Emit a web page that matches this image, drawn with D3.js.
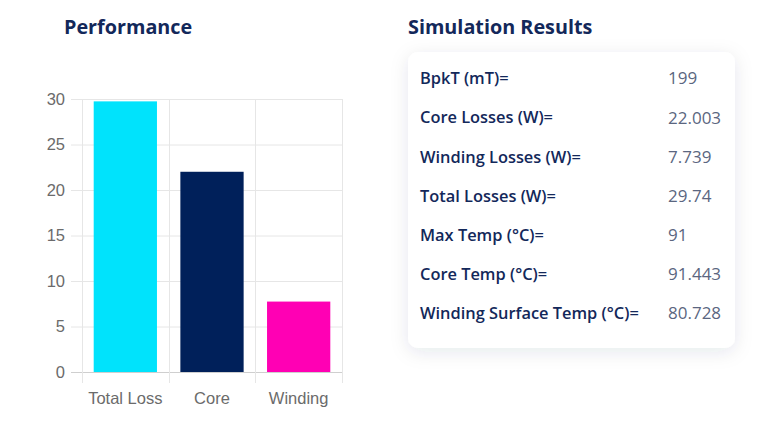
<!DOCTYPE html>
<html>
<head>
<meta charset="utf-8">
<script src="https://d3js.org/d3.v7.min.js"></script>
<style>
  body { margin: 0; background: #fff; }
</style>
</head>
<body>
<div id="chart"></div>
<script>
// data
var categories = ["Total Loss", "Core", "Winding"];
var values = [29.74, 22.003, 7.739];
var barColors = ["#00E3FC", "#00205A", "#FF00B4"];
var yTicks = [0, 5, 10, 15, 20, 25, 30];

var resultLabels = ["BpkT (mT)=", "Core Losses (W)=", "Winding Losses (W)=", "Total Losses (W)=",
                    "Max Temp (°C)=", "Core Temp (°C)=", "Winding Surface Temp (°C)="];
var resultValues = ["199", "22.003", "7.739", "29.74", "91", "91.443", "80.728"];

var width = 782, height = 433;
var navy = "#13285a";

var svg = d3.select("#chart").append("svg")
    .attr("width", width)
    .attr("height", height)
    .style("background", "#fff");

// shadow for the card
var defs = svg.append("defs");
var f = defs.append("filter").attr("id", "shadow")
    .attr("x", "-20%").attr("y", "-20%").attr("width", "140%").attr("height", "140%");
f.append("feDropShadow")
    .attr("dx", 0).attr("dy", 4)
    .attr("stdDeviation", 9)
    .attr("flood-color", "#1b2a55")
    .attr("flood-opacity", 0.10);

// titles
svg.append("text")
    .attr("x", 64).attr("y", 34)
    .style("font-family", "'Open Sans', sans-serif")
    .style("font-weight", 700)
    .style("font-size", "19.8px")
    .attr("fill", navy)
    .text("Performance");

svg.append("text")
    .attr("x", 408).attr("y", 34)
    .style("font-family", "'Open Sans', sans-serif")
    .style("font-weight", 700)
    .style("font-size", "19.8px")
    .attr("fill", navy)
    .text("Simulation Results");

// bar chart
var plot = { left: 82, right: 342, top: 99, bottom: 372 };

var x = d3.scaleBand()
    .domain(categories)
    .range([plot.left, plot.right]);

var y = d3.scaleLinear()
    .domain([0, 30])
    .range([plot.bottom, plot.top]);

// horizontal grid + ticks
svg.append("g")
    .selectAll("line")
    .data(yTicks)
    .enter()
    .append("line")
    .attr("x1", plot.left - 11)
    .attr("x2", plot.right)
    .attr("y1", function(d) { return y(d) + 0.5; })
    .attr("y2", function(d) { return y(d) + 0.5; })
    .attr("stroke", function(d) { return d === 0 ? "#cfcfcf" : "#e6e6e6"; })
    .attr("stroke-width", 1);

// vertical grid at band edges
var edges = categories.map(function(c) { return x(c); }).concat([plot.right]);
svg.append("g")
    .selectAll("line")
    .data(edges)
    .enter()
    .append("line")
    .attr("x1", function(d) { return Math.round(d) + 0.5; })
    .attr("x2", function(d) { return Math.round(d) + 0.5; })
    .attr("y1", plot.top)
    .attr("y2", plot.bottom + 11)
    .attr("stroke", "#e6e6e6")
    .attr("stroke-width", 1);

// y labels
svg.append("g")
    .selectAll("text")
    .data(yTicks)
    .enter()
    .append("text")
    .attr("x", plot.left - 17)
    .attr("y", function(d) { return y(d); })
    .attr("dy", "0.36em")
    .attr("text-anchor", "end")
    .style("font-family", "'Liberation Sans', Arial, sans-serif")
    .style("font-size", "16.5px")
    .attr("fill", "#6b6b6b")
    .text(function(d) { return d; });

// x labels
svg.append("g")
    .selectAll("text")
    .data(categories)
    .enter()
    .append("text")
    .attr("x", function(d) { return x(d) + x.bandwidth() / 2; })
    .attr("y", 404)
    .attr("text-anchor", "middle")
    .style("font-family", "'Liberation Sans', Arial, sans-serif")
    .style("font-size", "16.5px")
    .attr("fill", "#6b6b6b")
    .text(function(d) { return d; });

// bars
var barW = x.bandwidth() * 0.73;
svg.append("g")
    .selectAll("rect")
    .data(values)
    .enter()
    .append("rect")
    .attr("x", function(d, i) { return x(categories[i]) + (x.bandwidth() - barW) / 2; })
    .attr("y", function(d) { return y(d); })
    .attr("width", barW)
    .attr("height", function(d) { return y(0) - y(d); })
    .attr("fill", function(d, i) { return barColors[i]; });

// results card
var card = { x: 408, y: 52, w: 327, h: 296 };
svg.append("rect")
    .attr("x", card.x).attr("y", card.y)
    .attr("width", card.w).attr("height", card.h)
    .attr("rx", 10).attr("ry", 10)
    .attr("fill", "#fff")
    .attr("filter", "url(#shadow)");

var rowY = d3.scalePoint()
    .domain(d3.range(resultLabels.length))
    .range([78.3, 313.3]);

var rows = svg.append("g")
    .selectAll("g")
    .data(resultLabels)
    .enter()
    .append("g")
    .attr("transform", function(d, i) { return "translate(0," + rowY(i) + ")"; });

rows.append("text")
    .attr("x", 420)
    .attr("dy", "0.36em")
    .style("font-family", "'Open Sans', sans-serif")
    .style("font-weight", 600)
    .style("font-size", "16.4px")
    .attr("fill", navy)
    .text(function(d) { return d; });

rows.append("text")
    .attr("x", 668)
    .attr("dy", "0.36em")
    .style("font-family", "'Open Sans', sans-serif")
    .style("font-size", "17px")
    .attr("fill", "#5b6680")
    .text(function(d, i) { return resultValues[i]; });
</script>
</body>
</html>
